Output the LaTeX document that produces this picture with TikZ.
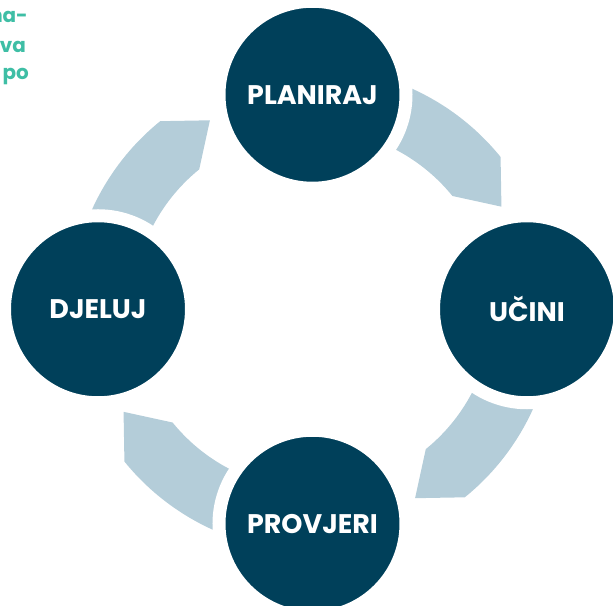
\documentclass[tikz,border=0pt]{standalone}
\usepackage{fontspec}
\setmainfont{Poppins}
\definecolor{navy}{HTML}{00405A}
\definecolor{ringblue}{HTML}{B4CDD9}
\definecolor{mint}{HTML}{3EBEA5}
\begin{document}
\begin{tikzpicture}[x=1bp, y=1bp,
    stage/.style={circle, fill=navy, draw=white, line width=13bp, minimum size=187bp,
        inner sep=0pt, text=white, font=\fontsize{27}{32}\selectfont\bfseries},
    band/.style={fill=ringblue},
    note/.style={anchor=base east, inner sep=0pt, text=mint, font=\fontsize{20}{24}\selectfont\bfseries}]
        \useasboundingbox (-312.5, -296.75) rectangle (300.5, 309.25);
        \clip (-312.5, -296.75) rectangle (300.5, 309.25);
        \coordinate (c) at (0, 0);
        \fill[band]
            (80:242) arc[start angle=80, end angle=39, radius=242]
            -- (28.5:215) -- (39:180)
            arc[start angle=39, end angle=80, radius=180] -- cycle
            (-10:242) arc[start angle=-10, end angle=-51, radius=242]
            -- (-61.5:215) -- (-51:180)
            arc[start angle=-51, end angle=-10, radius=180] -- cycle
            (-100:242) arc[start angle=-100, end angle=-141, radius=242]
            -- (-151.5:215) -- (-141:180)
            arc[start angle=-141, end angle=-100, radius=180] -- cycle
            (170:242) arc[start angle=170, end angle=129, radius=242]
            -- (118.5:215) -- (129:180)
            arc[start angle=129, end angle=170, radius=180] -- cycle;
        \node[stage] (planiraj) at (90:214.5) {PLANIRAJ};
        \node[stage] (ucini) at (0:214.5) {UČINI};
        \node[stage] (provjeri) at (-90:214.5) {PROVJERI};
        \node[stage] (djeluj) at (180:214.5) {DJELUJ};
        \node[note] (rowa) at (-284.5, 286.25) {na-};
        \node[note] (rowb) at (-286.5, 256.25) {va};
        \node[note] (rowc) at (-283.5, 229.25) {po};
\end{tikzpicture}
\end{document}
